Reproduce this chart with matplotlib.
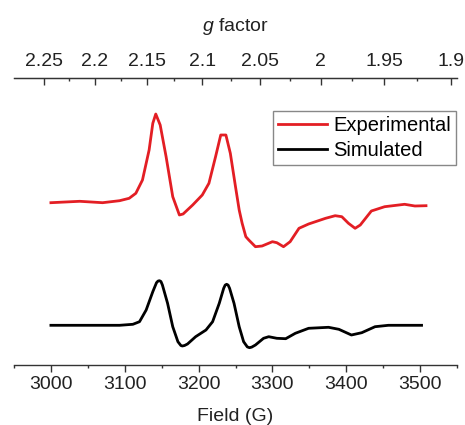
import numpy as np
import matplotlib
matplotlib.use("Agg")
import matplotlib.pyplot as plt
from matplotlib.ticker import MultipleLocator, FixedLocator

plt.rcParams['font.family'] = ['Liberation Sans', 'DejaVu Sans']
plt.rcParams['mathtext.fontset'] = 'custom'
plt.rcParams['mathtext.rm'] = 'Liberation Sans'
plt.rcParams['mathtext.it'] = 'Liberation Sans:italic'

# microwave frequency used for the g-factor axis
FREQ_GHZ = 9.42
G_CONST = 714.477  # g = G_CONST * nu[GHz] / B[G]

# experimental spectrum (field in G, intensity in a.u.)
exp_field = [3000, 3039, 3070, 3093, 3106, 3115, 3124, 3133, 3138, 3142, 3148,
             3156, 3165, 3174, 3179, 3192, 3205, 3214, 3223, 3230, 3237, 3243,
             3250, 3255, 3259, 3264, 3268, 3277, 3286, 3300, 3306, 3315, 3324,
             3336, 3349, 3372, 3385, 3394, 3403, 3412, 3419, 3434, 3452, 3479,
             3493, 3508]
exp_int = [0.3, 1.7, 0.3, 2.3, 4.7, 9.7, 23, 53, 79.7, 89, 78,
           46.3, 6.3, -12, -11, -2, 8, 19.7, 46.3, 68, 68, 49.7,
           16.3, -7, -20.3, -33.7, -37, -43.7, -43, -38.7, -39.7, -43.7, -38.7,
           -25.3, -21, -15.3, -12.7, -13.7, -20.3, -25.3, -22, -8, -3.7, -1.3,
           -3, -2.7]

# simulated spectrum
sim_field = [3000, 3093, 3111, 3120, 3129, 3138, 3143, 3145, 3147, 3149, 3151,
             3158, 3165, 3172, 3176, 3178, 3181, 3185, 3196, 3210, 3219, 3228,
             3234, 3236, 3238, 3240, 3242, 3248, 3255, 3261, 3266, 3269, 3272,
             3277, 3288, 3295, 3306, 3318, 3331, 3349, 3376, 3390, 3407, 3421,
             3439, 3457, 3502]
sim_int = [0, 0, 1, 3.6, 15.3, 33.6, 42.6, 44.2, 44.6, 43.8, 40.3,
           22, -1.4, -16.4, -20.2, -20.7, -20.2, -18.7, -11.4, -4.7, 3.6, 22,
           37, 40.2, 41, 40.2, 37, 22, -1.4, -16.4, -21.6, -22.4, -21.8,
           -19.7, -13, -11.4, -13, -13.4, -8, -3, -2, -4, -9.7, -7.4,
           -1.4, 0, 0]

exp_offset = 122.3

fig = plt.figure(figsize=(4.65, 4.25), dpi=100)
ax = fig.add_axes([14 / 465, 60 / 425, 443 / 465, 287 / 425])

ax.plot(exp_field, np.array(exp_int) + exp_offset, color='#e31e24', lw=2.0,
        solid_joinstyle='round', label='Experimental')
ax.plot(sim_field, sim_int, color='black', lw=2.0, solid_joinstyle='round',
        label='Simulated')

ax.set_xlim(2950, 3550)
ax.set_ylim(-39.7, 247.3)

for side in ['left', 'right']:
    ax.spines[side].set_visible(False)
for side in ['top', 'bottom']:
    ax.spines[side].set_color('#333333')
    ax.spines[side].set_linewidth(1.0)
ax.set_yticks([])

ax.xaxis.set_major_locator(MultipleLocator(100))
ax.xaxis.set_minor_locator(MultipleLocator(50))
ax.tick_params(axis='x', which='major', direction='out', length=5, width=1.0,
               color='#333333', labelsize=14, pad=3, labelcolor='#222222')
ax.tick_params(axis='x', which='minor', direction='out', length=2.5, width=1.0,
               color='#333333')
ax.set_xlabel('Field (G)', fontsize=14, labelpad=11, color='#222222')


def field_to_g(b):
    b = np.asarray(b, dtype=float)
    return G_CONST * FREQ_GHZ / np.where(b == 0, 1e-9, b)


def g_to_field(g):
    g = np.asarray(g, dtype=float)
    return G_CONST * FREQ_GHZ / np.where(g == 0, 1e-9, g)


top = ax.secondary_xaxis('top', functions=(field_to_g, g_to_field))
g_major = [2.25, 2.2, 2.15, 2.1, 2.05, 2.0, 1.95, 1.9]
g_minor = [2.225, 2.175, 2.125, 2.075, 2.025, 1.975, 1.925]
top.xaxis.set_major_locator(FixedLocator(g_major))
top.xaxis.set_minor_locator(FixedLocator(g_minor))
top.set_xticklabels(['2.25', '2.2', '2.15', '2.1', '2.05', '2', '1.95', '1.9'])
top.tick_params(axis='x', which='major', direction='in', length=5, width=1.0,
                color='#333333', labelsize=14, pad=6, labelcolor='#222222')
top.tick_params(axis='x', which='minor', direction='in', length=2.5, width=1.0,
                color='#333333')
top.spines['top'].set_color('#333333')
top.set_xlabel('$g$ factor', fontsize=14, labelpad=15.5, color='#222222')

ax.legend(loc='upper left', bbox_to_anchor=(0.585, 0.885), borderaxespad=0,
          fontsize=14.5, frameon=True, fancybox=False, edgecolor='#888888',
          framealpha=1, handlelength=2.4, handletextpad=0.35, borderpad=0.25,
          labelspacing=0.3)

fig.savefig('out.png', dpi=100)
